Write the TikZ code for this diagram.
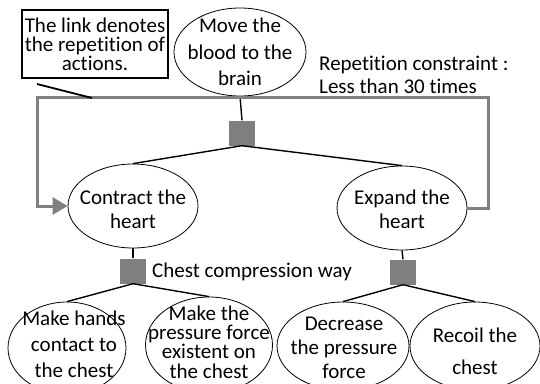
\documentclass[tikz,border=0pt]{standalone}
\usepackage{fontspec}
\setmainfont{Carlito}[Ligatures=NoCommon]
\usetikzlibrary{shapes.geometric,arrows.meta}
\definecolor{linkgray}{RGB}{128,128,128}
\definecolor{boxgray}{RGB}{127,127,127}
\tikzset{
  oval/.style={ellipse, draw, line width=0.8pt, inner sep=0pt},
  txt/.style={font=\fontsize{21}{24}\selectfont, align=center, inner sep=0pt},
  andbox/.style={fill=boxgray, minimum width=26pt, minimum height=25pt, inner sep=0pt},
  tie/.style={line width=1.4pt},
  rep/.style={draw=linkgray, line width=3pt},
}
\begin{document}
\begin{tikzpicture}[x=1pt,y=-1pt]
\useasboundingbox (0,0) rectangle (540,383);

% goal and its decomposition
\node[oval, minimum width=132pt, minimum height=88pt,
      label={[txt,font=\fontsize{21}{26.5}\selectfont]center:{Move the\\blood to the\\brain}}] (goal) at (240,52) {};
\node[andbox] (s1) at (242,133) {};

\node[oval, minimum width=130pt, minimum height=84pt,
      label={[txt,yshift=-3pt]center:{Contract the\\heart}}] (contract) at (133,206) {};
\node[oval, minimum width=130pt, minimum height=84pt,
      label={[txt,yshift=-1pt]center:{Expand the\\heart}}] (expand) at (402,208) {};

\node[andbox] (s2) at (133,271) {};
\node[andbox] (s3) at (403,272) {};

\node[oval, minimum width=118pt, minimum height=92pt,
      label={[txt,font=\fontsize{21}{26}\selectfont,xshift=7pt,yshift=4pt]center:{Make hands\\contact to\\the chest}}] (hands) at (67,348) {};
\node[oval, minimum width=127pt, minimum height=96pt,
      label={[txt,font=\fontsize{21}{19.4}\selectfont,yshift=3pt]center:{Make the\\pressure force\\existent on\\the chest}}] (press) at (209,345) {};
\node[oval, minimum width=132pt, minimum height=88pt,
      label={[txt,xshift=1pt,yshift=-2pt]center:{Decrease\\the pressure\\force}}] (decr) at (343,346) {};
\node[oval, minimum width=130pt, minimum height=88pt,
      label={[txt,font=\fontsize{21}{32}\selectfont,yshift=-5pt]center:{Recoil the\\chest}}] (recoil) at (475,346) {};

% decomposition links
\draw[tie] (goal.south) -- (s1.north);
\draw[tie] (s1.south) -- (contract.north);
\draw[tie] (s1.south) -- (expand.north);
\draw[tie] (contract.south) -- (s2.north);
\draw[tie] (s2.south) -- (hands.north);
\draw[tie] (s2.south) -- (press.north);
\draw[tie] (expand.south) -- (s3.north);
\draw[tie] (s3.south) -- (decr.north);
\draw[tie] (s3.south) -- (recoil.north);

% repetition link
\coordinate (ne) at (488,97);
\coordinate (nw) at (37,97);
\draw[rep, -{Triangle[length=15pt,width=17pt]}]
  (expand.east) -| (ne) -- (nw) |- (contract.west);

% labels
\node[txt, anchor=west] (way) at (152,272) {Chest compression way};
\node[txt, anchor=north west, align=left, font=\fontsize{21}{23}\selectfont]
  (rc) at (319,56) {Repetition constraint :\\Less than 30 times};

% note
\node[draw, line width=1.8pt, minimum width=146pt, minimum height=68pt, inner sep=0pt,
      font=\fontsize{21}{19}\selectfont, align=center] (note) at (95,44)
  {The link denotes\\the repetition of\\actions.};
\coordinate (p1) at (37,84);
\coordinate (p2) at (92,98);
\draw[line width=1.8pt] (p1) -- (p2);
\end{tikzpicture}
\end{document}
